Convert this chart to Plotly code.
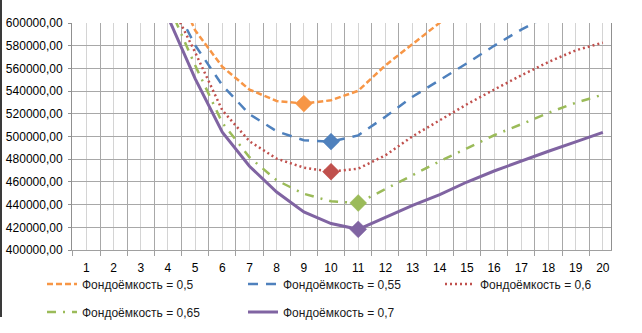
import plotly.graph_objects as go

# ---- data ----
periods = list(range(1, 21))
tick_labels = [str(p) for p in periods]

fe_050 = [830000, 760000, 700000, 647000, 593600, 561400, 541300, 531300, 529000, 531900,
          540300, 562700, 581900, 600500, 619000, 637000, 655000, 672000, 689000, 706000]
fe_055 = [780000, 715000, 665000, 627000, 580400, 545100, 519600, 504600, 496700, 495500,
          501000, 517400, 535000, 549500, 564500, 579900, 594200, 606800, 621000, 635000]
fe_060 = [770000, 705000, 655000, 622000, 574200, 523100, 495800, 480500, 472600, 469000,
          471700, 483400, 500200, 514300, 528400, 541300, 553900, 565600, 575900, 582700]
fe_065 = [760000, 695000, 648000, 617000, 562700, 512100, 481700, 461400, 449500, 442900,
          441400, 453500, 466300, 478200, 489600, 501100, 510800, 520900, 529700, 536900]
fe_070 = [750000, 690000, 640000, 605300, 551000, 503700, 473800, 451100, 433500, 423300,
          418200, 428600, 439400, 448800, 459900, 469600, 478400, 487000, 495200, 503700]

names = ["Фондоёмкость = 0,5", "Фондоёмкость = 0,55", "Фондоёмкость = 0,6",
         "Фондоёмкость = 0,65", "Фондоёмкость = 0,7"]
series = [fe_050, fe_055, fe_060, fe_065, fe_070]
colors = ["#F79646", "#4F81BD", "#C0504D", "#9BBB59", "#8064A2"]
dashes = ["6px,3px", "10px,8px", "2px,3px", "9px,7px,2px,7px", "solid"]
widths = [2.5, 2.5, 2.5, 2.5, 3]
legends = ["legend", "legend", "legend3", "legend2", "legend2"]

fig = go.Figure()
for name, ys, c, d, w, lg in zip(names, series, colors, dashes, widths, legends):
    fig.add_trace(go.Scatter(x=periods, y=ys, mode="lines", name=name,
                             line=dict(color=c, dash=d, width=w), legend=lg))

# minimum markers
for ys, c in zip(series, colors):
    i = min(range(len(ys)), key=lambda k: ys[k])
    fig.add_trace(go.Scatter(x=[periods[i]], y=[ys[i]], mode="markers", showlegend=False,
                             marker=dict(symbol="diamond", size=13, color=c,
                                         line=dict(width=0.5, color=c))))

W, H = 642, 333
ml, mr, mt, mb = 72, 31, 23, 83
pw = W - ml - mr
ph = H - mt - mb
bottom = mt + ph


def px_x(px):
    return (px - ml) / pw


def px_y(py):
    return (bottom - py) / ph


leg_common = dict(orientation="h", xanchor="left", yanchor="middle",
                  entrywidth=156, entrywidthmode="pixels",
                  font=dict(size=12, color="#1a1a1a"), bgcolor="rgba(0,0,0,0)",
                  itemwidth=30, traceorder="normal")

fig.update_layout(
    width=W, height=H,
    margin=dict(l=ml, r=mr, t=mt, b=mb, pad=0, autoexpand=False),
    paper_bgcolor="white", plot_bgcolor="white",
    font=dict(family="Liberation Sans, Arial, sans-serif", size=12, color="#000000"),
    separators=", ",
    showlegend=True,
    legend=dict(x=px_x(42), y=px_y(284), **leg_common),
    legend3=dict(x=px_x(440), y=px_y(284), **leg_common),
    legend2=dict(x=px_x(42), y=px_y(312), **leg_common),
    shapes=[dict(type="line", xref="paper", yref="paper",
                 x0=px_x(1), x1=px_x(1), y0=px_y(0), y1=px_y(317),
                 line=dict(color="#3a3a3a", width=2))],
)

fig.update_xaxes(
    range=[0.47, 20.3], tickmode="array", tickvals=periods, ticktext=tick_labels,
    showgrid=True, gridcolor="#D4D4D4", gridwidth=1,
    ticks="", showline=True, linecolor="#A0A0A0", zeroline=False,
    ticklabelstandoff=7,
    tickfont=dict(size=12, color="#000000"),
    minor=dict(tickmode="array", tickvals=[p + 0.5 for p in [0] + periods],
               showgrid=True, gridcolor="#A8A8A8", ticks="outside", ticklen=5,
               tickcolor="#A0A0A0"),
)
fig.update_yaxes(
    range=[400000, 600000], dtick=20000, tick0=400000, tickformat=".2f",
    showgrid=True, gridcolor="#A8A8A8", gridwidth=1,
    showline=True, linecolor="#909090", mirror=True, zeroline=False,
    ticks="outside", ticklen=3, tickcolor="#909090",
    ticklabelstandoff=3,
    tickfont=dict(size=12, color="#000000"),
)

fig.write_html("out.html")
